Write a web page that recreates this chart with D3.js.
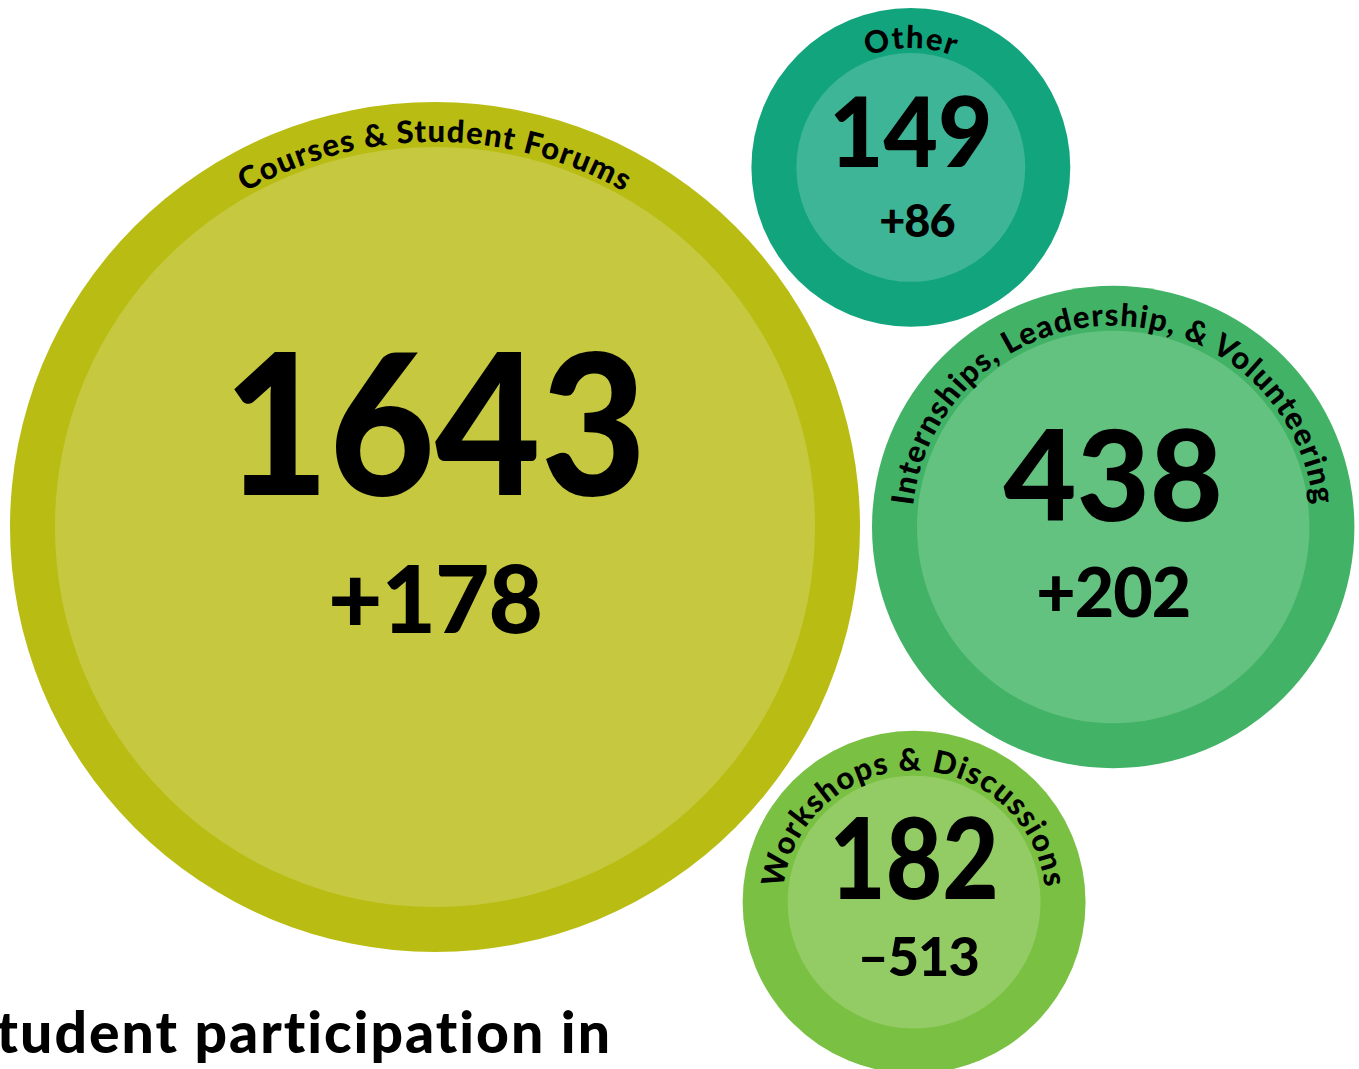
<!DOCTYPE html>
<html>
<head>
<meta charset="utf-8">
<script src="https://cdn.jsdelivr.net/npm/d3@7"></script>
<style>
  html, body { margin: 0; padding: 0; background: #fff; overflow: hidden; }
  svg { display: block; font-family: Lato, "Noto Sans", sans-serif; }
</style>
</head>
<body>
<div id="chart"></div>
<script>
// data
const categories = ["Courses & Student Forums", "Internships, Leadership, & Volunteering", "Workshops & Discussions", "Other"];
const counts = [1643, 438, 182, 149];
const changes = [178, 202, -513, 86];

// styling per bubble
const outerColors = ["#b9bd13", "#42b366", "#7ac043", "#12a57d"];
const innerColors = ["#c6c940", "#64c281", "#93cc64", "#3eb597"];
const numberSizes = [196, 126, 112, 98];
const numberSquash = [0.93, 1, 0.87, 0.96];
const changeSizes = [94, 68, 54, 45];
const numberDy = [-32, -6, -3, 0];
const changeDy = [106, 90, 74, 70];
const changeDx = [0, 0, 4, 6];

const W = 1359, H = 1069;
const ring = 45, pad = 6;
const labelSize = 31;

const r = d3.scaleSqrt().domain([0, d3.max(counts)]).range([0, 380]);
const fmtChange = d => d < 0 ? "–" + Math.abs(d) : "+" + d;

const nodes = categories.map((c, i) => ({
  name: c, count: counts[i], change: changes[i], i,
  inner: r(counts[i]), outer: r(counts[i]) + ring,
  r: r(counts[i]) + ring + pad
}));

d3.packSiblings(nodes);
// anchor the pack so the largest bubble sits at its spot
const dx = 435 - nodes[0].x, dy = 527 - nodes[0].y;
nodes.forEach(d => { d.cx = d.x + dx; d.cy = d.y + dy; });

const svg = d3.select("#chart").append("svg")
  .attr("width", W)
  .attr("height", H);

const defs = svg.append("defs");

const bubbles = svg.selectAll(".bubble")
  .data(nodes)
  .enter().append("g")
  .attr("class", "bubble")
  .attr("transform", d => "translate(" + d.cx + "," + d.cy + ")");

bubbles.append("circle")
  .attr("r", d => d.outer)
  .attr("fill", d => outerColors[d.i]);

bubbles.append("circle")
  .attr("r", d => d.inner)
  .attr("fill", d => innerColors[d.i]);

//label path: starts at bottom, runs clockwise so the middle is on top
defs.selectAll("path")
  .data(nodes)
  .enter().append("path")
  .attr("id", d => "lbl" + d.i)
  .attr("d", d => {
    const rr = d.inner + 5;
    return "M0," + rr + " A" + rr + "," + rr + " 0 1 1 0," + (-rr) +
      " A" + rr + "," + rr + " 0 1 1 0," + rr;
  });

bubbles.append("text")
  .style("font-size", labelSize + "px")
  .style("font-weight", 900)
  .style("letter-spacing", "1.2px")
  .attr("fill", "#000")
  .append("textPath")
  .attr("href", d => "#lbl" + d.i)
  .attr("startOffset", "50%")
  .attr("text-anchor", "middle")
  .text(d => d.name);

bubbles.append("text")
  .attr("text-anchor", "middle")
  .attr("transform", d => "translate(0," + numberDy[d.i] + ") scale(" + numberSquash[d.i] + ",1)")
  .style("font-size", d => numberSizes[d.i] + "px")
  .style("font-weight", 900)
  .text(d => d.count);

bubbles.append("text")
  .attr("text-anchor", "middle")
  .attr("x", d => changeDx[d.i])
  .attr("y", d => changeDy[d.i])
  .style("font-size", d => changeSizes[d.i] + "px")
  .style("letter-spacing", "-1px")
  .style("font-weight", 900)
  .text(d => fmtChange(d.change));

svg.append("text")
  .attr("x", 612)
  .attr("y", 1053)
  .attr("text-anchor", "end")
  .style("font-size", "57px")
  .style("letter-spacing", "2px")
  .style("font-weight", 900)
  .text("Student participation in");
</script>
</body>
</html>
